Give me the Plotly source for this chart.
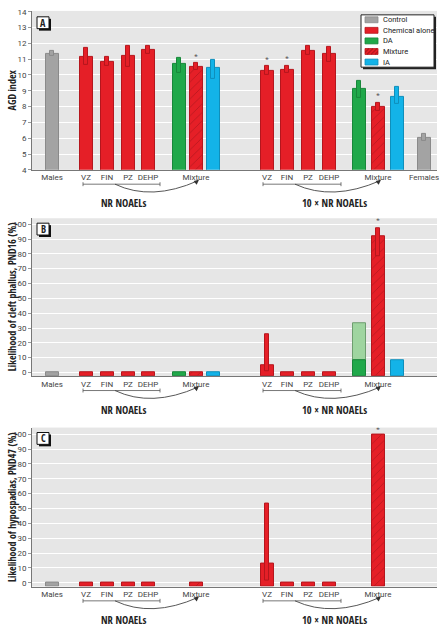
import plotly.graph_objects as go

# ---------------- data ----------------
bar_labels = ["Males", "VZ", "FIN", "PZ", "DEHP", "DA", "Mixture", "IA",
              "VZ", "FIN", "PZ", "DEHP", "DA", "Mixture", "IA", "Females"]
bar_group = ["Control", "Chemical alone", "Chemical alone", "Chemical alone", "Chemical alone",
             "DA", "Mixture", "IA",
             "Chemical alone", "Chemical alone", "Chemical alone", "Chemical alone",
             "DA", "Mixture", "IA", "Control"]

agd_mean = [11.32, 11.15, 10.85, 11.18, 11.58, 10.68, 10.50, 10.43,
            10.27, 10.35, 11.55, 11.32, 9.11, 7.97, 8.60, 6.02]
agd_lo = [11.20, 10.65, 10.60, 10.50, 11.33, 10.15, 10.30, 9.78,
          9.98, 10.15, 11.27, 10.82, 8.58, 7.70, 8.15, 5.80]
agd_hi = [11.55, 11.68, 11.12, 11.85, 11.85, 11.06, 10.75, 10.95,
          10.56, 10.60, 11.85, 11.80, 9.62, 8.26, 9.24, 6.25]
agd_sig = [0, 0, 0, 0, 0, 0, 1, 0, 1, 1, 0, 0, 0, 1, 0, 0]

cleft_mean = [0, 0, 0, 0, 0, 0, 0, 0, 5.1, 0, 0, 0, 8.4, 91.6, 8.4, None]
cleft_lo = [None, None, None, None, None, None, None, None, 1.0, None, None, None, 8.4, 78.4, None, None]
cleft_hi = [None, None, None, None, None, None, None, None, 26.0, None, None, None, 33.5, 97.1, None, None]
cleft_sig = [0, 0, 0, 0, 0, 0, 0, 0, 0, 0, 0, 0, 0, 1, 0, 0]

hypo_mean = [0, 0, 0, 0, 0, None, 0, None, 12.8, 0, 0, 0, None, 100, None, None]
hypo_lo = [None, None, None, None, None, None, None, None, 1.8, None, None, None, None, None, None, None]
hypo_hi = [None, None, None, None, None, None, None, None, 53.6, None, None, None, None, None, None, None]
hypo_sig = [0, 0, 0, 0, 0, 0, 0, 0, 0, 0, 0, 0, 0, 1, 0, 0]

tick_labels_A = ["Males", "VZ", "FIN", "PZ", "DEHP", "", "Mixture", "",
                 "VZ", "FIN", "PZ", "DEHP", "", "Mixture", "", "Females"]
tick_labels_BC = ["Males", "VZ", "FIN", "PZ", "DEHP", "", "Mixture", "",
                  "VZ", "FIN", "PZ", "DEHP", "", "Mixture", "", ""]
legend_labels = ["Control", "Chemical alone", "DA", "Mixture", "IA"]
group_labels = ["NR NOAELs", "10 × NR NOAELs"]

# ---------------- layout helpers (positions / styles) ----------------
x_pos = [20, 54, 75, 96, 116, 147, 164, 181, 235, 255, 276, 297, 327, 346, 365, 392]
BAR_W = 13
ERR_W = 4
W, H = 441, 633
ML, MR = 32, 4
PW = W - ML - MR

TFONT = "Roboto, sans-serif"
BFONT = "Open Sans Condensed, Roboto, sans-serif"
colors = {"Control": "#a3a3a3", "Chemical alone": "#e51f27", "DA": "#20a84a",
          "Mixture": "#e51f27", "IA": "#13b3e8"}
outlines = {"Control": "#8a8a8a", "Chemical alone": "#b5161d", "DA": "#18873a",
            "Mixture": "#b5161d", "IA": "#0f8fbb"}
order = legend_labels


def pyp(px):
    return 1 - px / H


def pxx(px):
    return (px - ML) / PW


panels = [
    ("A", agd_mean, agd_lo, agd_hi, agd_sig, [4, 14.05], 1, (8, 169), tick_labels_A, None, 0.4),
    ("B", cleft_mean, cleft_lo, cleft_hi, cleft_sig, [-2.5, 104], 10, (218, 378), tick_labels_BC, -2.5, 5.0),
    ("C", hypo_mean, hypo_lo, hypo_hi, hypo_sig, [-2.5, 104.5], 10, (430, 591), tick_labels_BC, -2.5, 3.0),
]
ytitles = ["AGD index", "Likelihood of cleft phallus, PND16 (%)", "Likelihood of hypospadias, PND47 (%)"]

fig = go.Figure()
shapes = []
annotations = []

for pi, (name, mean, lo, hi, sig, yr, dt, dom, tlabels, base, soff) in enumerate(panels):
    xa = "x" if pi == 0 else f"x{pi+1}"
    ya = "y" if pi == 0 else f"y{pi+1}"
    for g in order:
        idx = [i for i in range(len(mean)) if bar_group[i] == g and mean[i] is not None]
        if not idx:
            continue
        xs = [x_pos[i] for i in idx]
        vals = [mean[i] for i in idx]
        ys = [v - base for v in vals] if base is not None else vals
        marker = dict(color=colors[g], line=dict(color=outlines[g], width=1))
        if g == "Mixture":
            marker["pattern"] = dict(shape="/", fgcolor="#7d0f14", bgcolor=colors[g],
                                     size=6, solidity=0.12)
        if g == "DA" and pi > 0:
            ridx = [i for i in idx if lo[i] is not None and hi[i] is not None]
            if ridx:
                fig.add_trace(go.Bar(x=[x_pos[i] for i in ridx], y=[hi[i] - lo[i] for i in ridx],
                                     base=[lo[i] for i in ridx], width=BAR_W,
                                     marker=dict(color="#9fd5a0", line=dict(color="#6e9e70", width=1)),
                                     xaxis=xa, yaxis=ya, showlegend=False, hoverinfo="skip"))
        fig.add_trace(go.Bar(x=xs, y=ys, base=base, width=BAR_W, name=g,
                             showlegend=False, marker=marker, xaxis=xa, yaxis=ya))
    for g in order:
        if g == "DA" and pi > 0:
            continue
        idx = [i for i in range(len(mean)) if bar_group[i] == g and mean[i] is not None
               and lo[i] is not None and hi[i] is not None]
        if not idx:
            continue
        fig.add_trace(go.Bar(x=[x_pos[i] for i in idx], y=[hi[i] - lo[i] for i in idx],
                             base=[lo[i] for i in idx], width=ERR_W,
                             marker=dict(color=colors[g], line=dict(color=outlines[g], width=1)),
                             xaxis=xa, yaxis=ya, showlegend=False, hoverinfo="skip"))
    sidx = [i for i in range(len(mean)) if sig[i]]
    fig.add_trace(go.Scatter(x=[x_pos[i] for i in sidx],
                             y=[(hi[i] if hi[i] is not None else mean[i]) + soff for i in sidx],
                             mode="text", text=["*"] * len(sidx),
                             textfont=dict(size=8, color="#555", family=TFONT),
                             xaxis=xa, yaxis=ya, showlegend=False, hoverinfo="skip"))

    tv = [x_pos[i] for i in range(len(tlabels)) if tlabels[i]]
    tt = [t for t in tlabels if t]
    xkey = "xaxis" if pi == 0 else f"xaxis{pi+1}"
    ykey = "yaxis" if pi == 0 else f"yaxis{pi+1}"
    fig.layout[xkey] = dict(range=[0, PW], domain=[0, 1], anchor=ya, tickvals=tv, ticktext=tt,
                            showgrid=False, zeroline=False, showline=True, linecolor="#777",
                            linewidth=1, ticks="", tickfont=dict(size=8, color="#444", family=TFONT),
                            fixedrange=True)
    fig.layout[ykey] = dict(range=yr, domain=[pyp(dom[1]), pyp(dom[0])], anchor=xa, dtick=dt,
                            tick0=0, showgrid=True, gridcolor="#ffffff", gridwidth=1,
                            zeroline=False, showline=True, linecolor="#777", linewidth=1,
                            ticks="outside", ticklen=3, tickcolor="#999",
                            tickfont=dict(size=8, color="#444", family=TFONT), fixedrange=True)

    annotations.append(dict(text=ytitles[pi], textangle=-90, xref="paper", yref="paper",
                            x=pxx(12), y=(pyp(dom[0]) + pyp(dom[1])) / 2, showarrow=False,
                            xanchor="center", yanchor="middle",
                            font=dict(size=10, color="#222", family=BFONT)))
    cy = {0: 20, 1: 229, 2: 441}[pi]
    shapes.append(dict(type="rect", xref="paper", yref="paper",
                       x0=pxx(39), x1=pxx(51), y0=pyp(cy + 8), y1=pyp(cy - 4),
                       fillcolor="#111", line=dict(width=0), layer="above"))
    shapes.append(dict(type="rect", xref="paper", yref="paper",
                       x0=pxx(37), x1=pxx(49), y0=pyp(cy + 6), y1=pyp(cy - 6),
                       fillcolor="white", line=dict(color="#111", width=1), layer="above"))
    annotations.append(dict(text=name, xref="paper", yref="paper",
                            x=pxx(43), y=pyp(cy), showarrow=False, xanchor="center", yanchor="middle",
                            font=dict(size=10, color="#222", family=BFONT)))

    bottom = dom[1]
    yb = pyp(bottom + 14.5)
    ylow = pyp(bottom + 32)
    ytip = pyp(bottom + 11)
    for (bx0, bx1, cx0, cx1, lab, lx) in [(51, 128, 83, 166, group_labels[0], 92),
                                          (231, 309, 263, 348, group_labels[1], 302)]:
        shapes.append(dict(type="line", xref=xa, yref="paper", x0=bx0, x1=bx1, y0=yb, y1=yb,
                           line=dict(color="#555", width=0.8)))
        for bx in (bx0, bx1):
            shapes.append(dict(type="line", xref=xa, yref="paper", x0=bx, x1=bx,
                               y0=pyp(bottom + 12.5), y1=pyp(bottom + 16.5),
                               line=dict(color="#555", width=0.8)))
        mid = (cx0 + cx1) / 2 - 5
        shapes.append(dict(type="path", xref=xa, yref="paper",
                           path=f"M {cx0},{yb} Q {mid},{ylow} {cx1},{ytip}",
                           line=dict(color="#444", width=0.9)))
        annotations.append(dict(text="", xref=xa, yref="paper", x=cx1 + 1, y=pyp(bottom + 10),
                                ax=-5, ay=4, showarrow=True, arrowhead=2, arrowsize=1,
                                arrowwidth=1, arrowcolor="#333"))
        annotations.append(dict(text=lab, xref=xa, yref="paper", x=lx,
                                y=pyp(bottom + 34), showarrow=False, xanchor="center", yanchor="middle",
                                font=dict(size=10.5, color="#222", family=BFONT)))

# ---- custom legend (box with shadow) ----
LX0, LX1, LY0, LY1 = 361, 434, 12, 65
shapes.append(dict(type="rect", xref="paper", yref="paper", x0=pxx(LX0 + 2), x1=pxx(LX1 + 2),
                   y0=pyp(LY1 + 2), y1=pyp(LY0 + 2), fillcolor="#222", line=dict(width=0), layer="above"))
shapes.append(dict(type="rect", xref="paper", yref="paper", x0=pxx(LX0), x1=pxx(LX1),
                   y0=pyp(LY1), y1=pyp(LY0), fillcolor="white", line=dict(color="#222", width=1),
                   layer="above"))
for k, g in enumerate(legend_labels):
    cyl = 17 + k * 10.7
    sx0, sx1 = 365, 378
    shapes.append(dict(type="rect", xref="paper", yref="paper", x0=pxx(sx0), x1=pxx(sx1),
                       y0=pyp(cyl + 3), y1=pyp(cyl - 3), fillcolor=colors[g],
                       line=dict(color=outlines[g], width=0.8), layer="above"))
    if g == "Mixture":
        for hx in range(sx0 - 2, sx1, 4):
            x0, x1 = max(hx, sx0), min(hx + 6, sx1)
            y0 = cyl + 3 - (x0 - hx)
            y1 = cyl + 3 - (x1 - hx)
            shapes.append(dict(type="line", xref="paper", yref="paper", x0=pxx(x0), x1=pxx(x1),
                               y0=pyp(y0), y1=pyp(y1), line=dict(color="#7d0f14", width=0.7),
                               layer="above"))
    annotations.append(dict(text=g, xref="paper", yref="paper", x=pxx(381), y=pyp(cyl),
                            xanchor="left", yanchor="middle", showarrow=False,
                            font=dict(size=7.5, color="#222", family=TFONT)))

fig.update_layout(
    width=W, height=H, margin=dict(l=ML, r=MR, t=0, b=0),
    paper_bgcolor="white", plot_bgcolor="#e6e6e6",
    barmode="overlay", bargap=0,
    shapes=shapes, annotations=annotations,
    showlegend=False,
)

fig.write_html("out.html", config={"displayModeBar": False},
               post_script="document.body.style.margin='0px';")
